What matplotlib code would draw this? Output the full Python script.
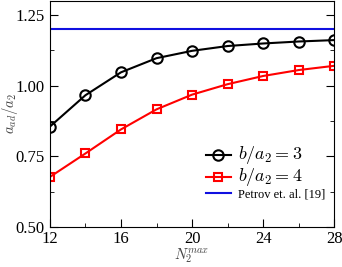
import numpy as np
import matplotlib

matplotlib.use('Agg')

import matplotlib.pyplot as plt
from matplotlib.ticker import MultipleLocator

plt.rcParams['font.family'] = 'Liberation Serif'
plt.rcParams['mathtext.fontset'] = 'cm'

n_max = [12, 14, 16, 18, 20, 22, 24, 26, 28]
ratio_b3 = [0.855, 0.966, 1.047, 1.097, 1.123, 1.140, 1.149, 1.156, 1.161]
ratio_b4 = [0.677, 0.760, 0.845, 0.916, 0.968, 1.005, 1.034, 1.055, 1.070]
petrov = 1.20

fig = plt.figure(figsize=(3.42, 2.67), dpi=100)
ax = fig.add_axes([0.146, 0.15, 0.831, 0.847])

ax.plot(n_max, ratio_b3, color='black', lw=1.5, marker='o', ms=7.5,
        mfc='none', mew=1.5, label=r'$b/a_2 = 3$')
ax.plot(n_max, ratio_b4, color='red', lw=1.5, marker='s', ms=6,
        mfc='none', mew=1.5, label=r'$b/a_2 = 4$')
ax.axhline(petrov, color='#1010e0', lw=1.5, label='Petrov et. al. [19]')

ax.set_xlim(12, 28)
ax.set_ylim(0.5, 1.3)
ax.xaxis.set_major_locator(MultipleLocator(4))
ax.xaxis.set_minor_locator(MultipleLocator(2))
ax.yaxis.set_major_locator(MultipleLocator(0.25))
ax.yaxis.set_minor_locator(MultipleLocator(0.125))
ax.yaxis.set_major_formatter(matplotlib.ticker.FormatStrFormatter('%.2f'))
ax.tick_params(which='both', direction='in', right=True, top=False, labelsize=12)
ax.tick_params(which='major', length=6)
ax.tick_params(which='minor', length=3)
ax.tick_params(axis='y', pad=4)
ax.tick_params(axis='x', pad=3)

ax.set_xlabel(r'$N_2^{max}$', fontsize=10.5, color='#444444')
ax.set_ylabel(r'$a_{ad}/a_2$', fontsize=10.5, color='#444444')
ax.yaxis.set_label_coords(-0.105, 0.5)
ax.xaxis.set_label_coords(0.5, -0.085)

leg = ax.legend(loc='lower right', bbox_to_anchor=(1.0, 0.08), frameon=False,
                fontsize=9, handlelength=2.0, borderpad=0.2, labelspacing=0.0,
                handletextpad=0.6)
for t in leg.get_texts()[:2]:
    t.set_fontsize(13)

fig.savefig('out.png', dpi=100)
